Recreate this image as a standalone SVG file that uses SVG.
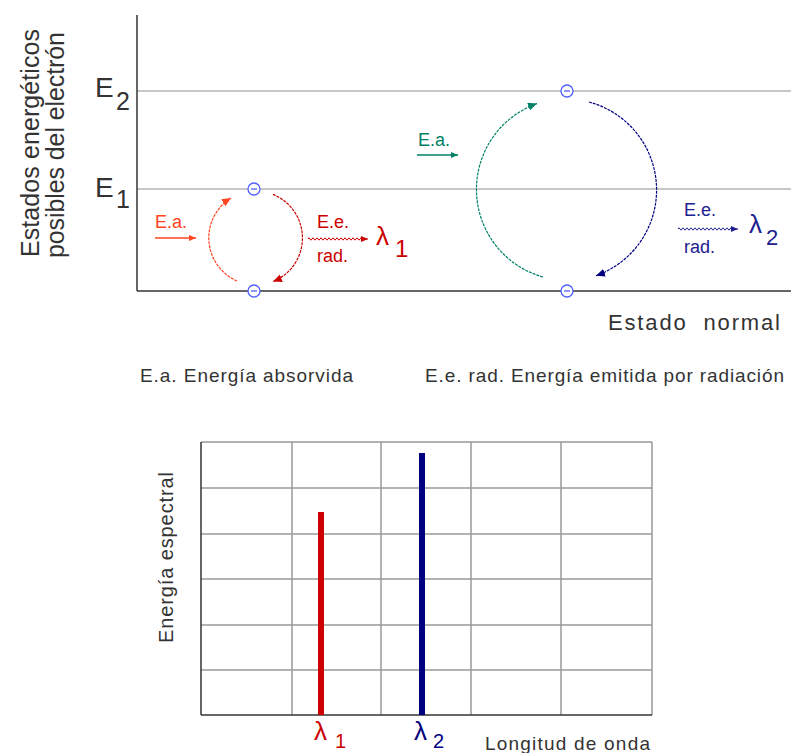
<svg xmlns="http://www.w3.org/2000/svg" width="791" height="753" viewBox="0 0 791 753">
<style>
text{font-family:"Liberation Sans",Arial,sans-serif;}
.lab{fill:#333;}
.lvl{stroke:#909090;stroke-width:1.2;fill:none;}
.axis{stroke:#333;stroke-width:1.5;fill:none;}
.grid{stroke:#999;stroke-width:1.5;fill:none;}
.arc{fill:none;stroke-width:1.2;stroke-dasharray:3 1;}
.el circle{fill:#fff;stroke:#5060ff;stroke-width:1.3;}
.el line{stroke:#5060ff;stroke-width:1.3;}
</style>
<defs>
<marker id="ah-or" markerUnits="userSpaceOnUse" markerWidth="10" markerHeight="9" refX="9" refY="4" orient="auto"><path d="M0,0 L9,4 L0,8 z" fill="#ff4422"/></marker>
<marker id="ah-rd" markerUnits="userSpaceOnUse" markerWidth="10" markerHeight="9" refX="9" refY="4" orient="auto"><path d="M0,0 L9,4 L0,8 z" fill="#cc0000"/></marker>
<marker id="ah-tl" markerUnits="userSpaceOnUse" markerWidth="10" markerHeight="9" refX="9" refY="4" orient="auto"><path d="M0,0 L9,4 L0,8 z" fill="#008066"/></marker>
<marker id="ah-nv" markerUnits="userSpaceOnUse" markerWidth="10" markerHeight="9" refX="9" refY="4" orient="auto"><path d="M0,0 L9,4 L0,8 z" fill="#000080"/></marker>
<marker id="sh-or" markerUnits="userSpaceOnUse" markerWidth="8" markerHeight="7" refX="7" refY="3" orient="auto"><path d="M0,0 L7,3 L0,6 z" fill="#ff4422"/></marker>
<marker id="sh-rd" markerUnits="userSpaceOnUse" markerWidth="8" markerHeight="7" refX="7" refY="3" orient="auto"><path d="M0,0 L7,3 L0,6 z" fill="#cc0000"/></marker>
<marker id="sh-tl" markerUnits="userSpaceOnUse" markerWidth="8" markerHeight="7" refX="7" refY="3" orient="auto"><path d="M0,0 L7,3 L0,6 z" fill="#008066"/></marker>
<marker id="sh-nv" markerUnits="userSpaceOnUse" markerWidth="8" markerHeight="7" refX="7" refY="3" orient="auto"><path d="M0,0 L7,3 L0,6 z" fill="#202090"/></marker>
</defs>

<g id="energy-diagram">
  <line class="lvl" x1="137" y1="91" x2="791" y2="91"/>
  <line class="lvl" x1="137" y1="189" x2="791" y2="189"/>
  <line class="axis" x1="137" y1="15" x2="137" y2="291"/>
  <line class="axis" x1="137" y1="291" x2="791" y2="291"/>
  <text class="lab" font-size="25" transform="translate(39,257) rotate(-90)" textLength="228" lengthAdjust="spacing">Estados energéticos</text>
  <text class="lab" font-size="25" transform="translate(64,258) rotate(-90)" textLength="226" lengthAdjust="spacing">posibles del electrón</text>
  <text class="lab" font-size="28" x="95" y="97">E</text>
  <text class="lab" font-size="25" x="116" y="110">2</text>
  <text class="lab" font-size="28" x="95" y="197">E</text>
  <text class="lab" font-size="25" x="116" y="208">1</text>
  <text class="lab" font-size="22" x="608" y="330" style="white-space:pre" textLength="172" lengthAdjust="spacing">Estado  normal</text>
  <text class="lab" font-size="19" x="140" y="382" textLength="213" lengthAdjust="spacing">E.a. Energía absorvida</text>
  <text class="lab" font-size="19" x="425" y="382" textLength="359" lengthAdjust="spacing">E.e. rad. Energía emitida por radiación</text>
</g>

<g id="transition-1">
  <text font-size="18" x="155" y="228" fill="#ff4422">E.a.</text>
  <text font-size="18" x="317" y="228" fill="#cc0000">E.e.</text>
  <text font-size="18" x="317" y="262" fill="#cc0000">rad.</text>
  <text font-size="26" x="376" y="245" fill="#cc0000">λ</text>
  <text font-size="24" x="395" y="257" fill="#cc0000">1</text>
</g>

<g id="transition-2">
  <text font-size="18" x="418" y="146" fill="#008066">E.a.</text>
  <text font-size="18" x="684" y="216" fill="#202090">E.e.</text>
  <text font-size="18" x="684" y="253" fill="#202090">rad.</text>
  <text font-size="26" x="749" y="233" fill="#202090">λ</text>
  <text font-size="22" x="766" y="245" fill="#202090">2</text>
</g>

<g id="connectors">
  <path class="arc" stroke="#ff4422" d="M237,281 A47,47 0 0 1 231,198" marker-end="url(#ah-or)"/>
  <path class="arc" stroke="#cc0000" d="M273,194.4 A47,47 0 0 1 273,281.6" marker-end="url(#ah-rd)"/>
  <path class="arc" stroke="#008066" d="M543,277 A91,91 0 0 1 537,103.6" marker-end="url(#ah-tl)"/>
  <path class="arc" stroke="#000080" d="M589,102 A91,91 0 0 1 596,275.7" marker-end="url(#ah-nv)"/>
  <path fill="none" stroke="#ff4422" stroke-width="1.3" d="M155,238 L196,238" marker-end="url(#sh-or)"/>
  <path fill="none" stroke="#008066" stroke-width="1.3" d="M417,155 L458,155" marker-end="url(#sh-tl)"/>
  <path fill="none" stroke="#cc0000" stroke-width="1" d="M308,239 q1,-2.4 2,0 t2,0 t2,0 t2,0 t2,0 t2,0 t2,0 t2,0 t2,0 t2,0 t2,0 t2,0 t2,0 t2,0 t2,0 t2,0 t2,0 t2,0 t2,0 t2,0 t2,0 t2,0 t2,0 t2,0 t2,0 t2,0 t2,0 t2,0 l4,0" marker-end="url(#sh-rd)"/>
  <path fill="none" stroke="#202090" stroke-width="1" d="M678,229 q1,-2.4 2,0 t2,0 t2,0 t2,0 t2,0 t2,0 t2,0 t2,0 t2,0 t2,0 t2,0 t2,0 t2,0 t2,0 t2,0 t2,0 t2,0 t2,0 t2,0 t2,0 t2,0 t2,0 t2,0 t2,0 t2,0 t2,0 t2,0 l6,0" marker-end="url(#sh-nv)"/>
</g>

<g id="electron-1a" class="el"><circle cx="254" cy="189" r="6"/><line x1="251" y1="189" x2="257" y2="189"/></g>
<g id="electron-1b" class="el"><circle cx="254" cy="291" r="6"/><line x1="251" y1="291" x2="257" y2="291"/></g>
<g id="electron-2a" class="el"><circle cx="567" cy="91" r="6"/><line x1="564" y1="91" x2="570" y2="91"/></g>
<g id="electron-2b" class="el"><circle cx="567" cy="291" r="6"/><line x1="564" y1="291" x2="570" y2="291"/></g>

<g id="spectrum-chart">
  <path class="grid" d="M201,442 H652 M201,488 H652 M201,534 H652 M201,579 H652 M201,625 H652 M201,670 H652 M292,442 V715 M381,442 V715 M471,442 V715 M561,442 V715 M652,442 V715"/>
  <line class="axis" x1="201" y1="442" x2="201" y2="715"/>
  <line class="axis" x1="201" y1="715" x2="652" y2="715"/>
  <rect x="318" y="512" width="6" height="203" fill="#cc0000"/>
  <rect x="419" y="453" width="6" height="262" fill="#000080"/>
  <text class="lab" font-size="20" transform="translate(173,643) rotate(-90)" textLength="171" lengthAdjust="spacing">Energía espectral</text>
  <text font-size="26" x="314" y="740" fill="#cc0000">λ</text>
  <text font-size="20" x="335" y="748" fill="#cc0000">1</text>
  <text font-size="26" x="414" y="740" fill="#000080">λ</text>
  <text font-size="20" x="433" y="748" fill="#000080">2</text>
  <text class="lab" font-size="19" x="485" y="750" textLength="165" lengthAdjust="spacing">Longitud de onda</text>
</g>
</svg>
